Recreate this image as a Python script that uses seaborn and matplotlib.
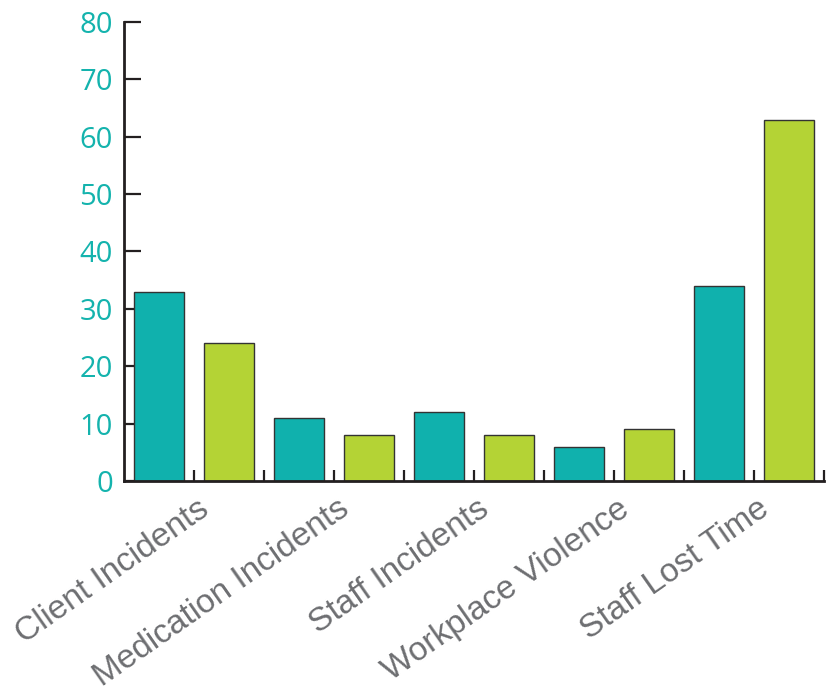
import matplotlib
matplotlib.use("Agg")
import matplotlib.pyplot as plt
import matplotlib.transforms as mtransforms
import seaborn as sns
import pandas as pd

categories = ["Client Incidents", "Medication Incidents", "Staff Incidents",
              "Workplace Violence", "Staff Lost Time"]
series_a = [33, 11, 12, 6, 34]
series_b = [24, 8, 8, 9, 63]
series_names = ["A", "B"]
y_ticks = [0, 10, 20, 30, 40, 50, 60, 70, 80]

TEAL = "#10B1AD"
GREEN = "#B4D335"
LABEL_GRAY = "#6D6E71"

sns.set_theme(style="white")

df = pd.DataFrame({
    "category": categories * 2,
    "series": [series_names[0]] * len(categories) + [series_names[1]] * len(categories),
    "value": series_a + series_b,
})

fig = plt.figure(figsize=(8.27, 6.92), dpi=100)
ax = fig.add_axes([124 / 827, 1 - 481 / 692, 700 / 827, 459 / 692])

sns.barplot(data=df, x="category", y="value", hue="series", order=categories,
            hue_order=series_names, palette=[TEAL, GREEN], saturation=1,
            width=1.0, gap=0.286, edgecolor="#333333", linewidth=1.0,
            legend=False, ax=ax)

ax.set_xlim(-0.5, len(categories) - 0.5)
ax.set_ylim(0, 80)
ax.set_xlabel("")
ax.set_ylabel("")

for side in ["top", "right"]:
    ax.spines[side].set_visible(False)
for side in ["left", "bottom"]:
    ax.spines[side].set_color("#231F20")
    ax.spines[side].set_linewidth(2.0)

# y axis: inward ticks with teal numbers
ax.set_yticks(y_ticks)
ax.set_yticklabels([str(v) for v in y_ticks], family=["Open Sans", "DejaVu Sans"],
                   fontsize=21, color="#14B3AD")
ax.tick_params(axis="y", direction="in", length=12, width=1.6, color="#231F20",
               pad=8, left=True)

# x axis: small upward ticks between every bar
ax.set_xticks(range(len(categories)))
ax.set_xticks([i + 0.5 for i in range(len(categories))], minor=True)
ax.tick_params(axis="x", which="both", direction="in", length=8, width=1.6,
               color="#231F20", bottom=True)
ax.set_xticklabels(categories, rotation=35, ha="right", rotation_mode="anchor",
                   family=["Liberation Sans", "DejaVu Sans"], fontsize=24,
                   color=LABEL_GRAY)
ax.tick_params(axis="x", pad=9)
offset = mtransforms.ScaledTranslation(3 / 100, 0, fig.dpi_scale_trans)
for lbl in ax.get_xticklabels():
    lbl.set_transform(lbl.get_transform() + offset)

ax.grid(False)
fig.savefig("out.png", dpi=100)
